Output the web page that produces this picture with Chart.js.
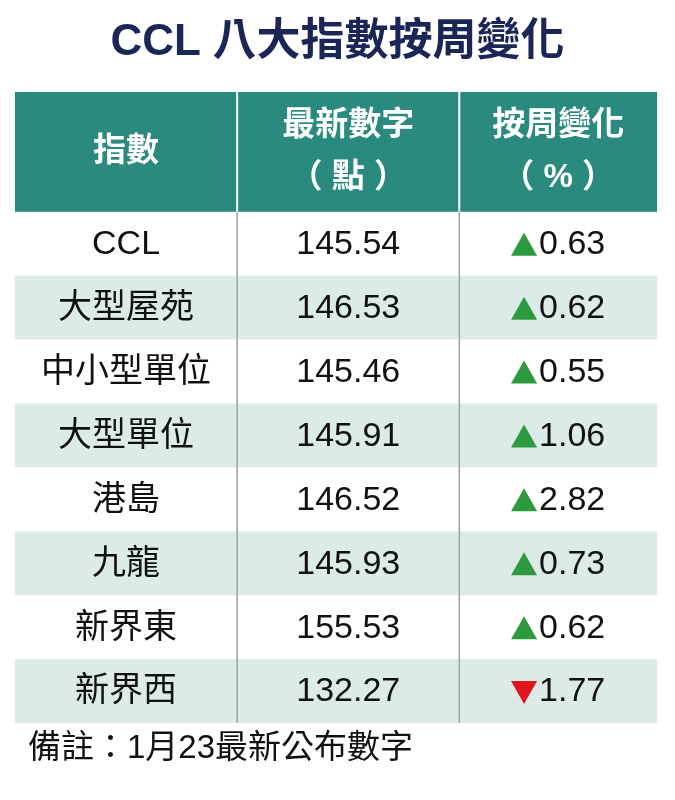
<!DOCTYPE html>
<html><head><meta charset="utf-8">
<script src="https://cdn.jsdelivr.net/npm/chart.js@4/dist/chart.umd.min.js"></script>
<style>
body{margin:0;background:#fff;width:675px;height:800px;position:relative;overflow:hidden;font-family:"Liberation Sans","Noto Sans CJK TC",sans-serif}
#t{position:absolute;top:14px;left:0;width:675px;text-align:center;font-size:44px;font-weight:bold;color:#1b2657;line-height:1.2}
#f{position:absolute;top:727px;left:28px;font-size:33px;color:#111;line-height:1.2}
canvas{position:absolute;left:0;top:0}
</style></head><body>
<canvas id="c" width="675" height="800"></canvas>
<div id="t">CCL 八大指數按周變化</div>
<div id="f">備註：1月23最新公布數字</div>
<script>
const headers = [["指數"], ["最新數字", "（ 點 ）"], ["按周變化", "（ % ）"]];
const categories = ["CCL","大型屋苑","中小型單位","大型單位","港島","九龍","新界東","新界西"];
const latest = [145.54,146.53,145.46,145.91,146.52,145.93,155.53,132.27];
const weeklyChange = [0.63,0.62,0.55,1.06,2.82,0.73,0.62,-1.77];

const colEdges=[0,1,2,2.89];
const headerUnits=1.875;
const totalUnits=headerUnits+categories.length;
const FONT='"Liberation Sans","Noto Sans CJK TC",sans-serif';

const tablePlugin={id:'table',beforeDatasetsDraw(chart){
  const ctx=chart.ctx,x=chart.scales.x,y=chart.scales.y;
  const X=v=>x.getPixelForValue(v),Y=v=>y.getPixelForValue(v);
  ctx.save();
  ctx.fillStyle='#2a8a7e';
  ctx.fillRect(X(0),Y(0),X(colEdges[3])-X(0),Y(headerUnits)-Y(0));
  categories.forEach((c,i)=>{
    const y0=Y(headerUnits+i),y1=Y(headerUnits+i+1);
    if(i%2===1){ctx.fillStyle='#dcebe8';ctx.fillRect(X(0),y0,X(colEdges[3])-X(0),y1-y0);}
  });
  [1,2].forEach(e=>{
    ctx.strokeStyle='#ffffff';ctx.lineWidth=2;
    ctx.beginPath();ctx.moveTo(X(colEdges[e]),Y(0));ctx.lineTo(X(colEdges[e]),Y(headerUnits));ctx.stroke();
    ctx.strokeStyle='#9aa5a3';ctx.lineWidth=1.5;
    ctx.beginPath();ctx.moveTo(X(colEdges[e]),Y(headerUnits));ctx.lineTo(X(colEdges[e]),Y(totalUnits));ctx.stroke();
  });
  ctx.fillStyle='#fff';ctx.textAlign='center';ctx.textBaseline='middle';
  ctx.font='bold 33px '+FONT;
  headers.forEach((h,j)=>{
    const cx=(X(colEdges[j])+X(colEdges[j+1]))/2;
    if(h.length===1)ctx.fillText(h[0],cx,Y(headerUnits/2));
    else{ctx.fillText(h[0],cx,Y(headerUnits*0.28));ctx.fillText(h[1],cx,Y(headerUnits*0.72));}
  });
  ctx.font='34px '+FONT;
  categories.forEach((c,i)=>{
    const cy=Y(headerUnits+i+0.5)+1;
    ctx.fillStyle='#111';ctx.textAlign='center';
    ctx.fillText(c,(X(colEdges[0])+X(colEdges[1]))/2,cy);
    ctx.fillText(latest[i].toFixed(2),(X(colEdges[1])+X(colEdges[2]))/2,cy);
    const v=weeklyChange[i],txt=Math.abs(v).toFixed(2);
    const tw=ctx.measureText(txt).width,triW=26,gap=2;
    const start=(X(colEdges[2])+X(colEdges[3]))/2-(tw+triW+gap)/2;
    ctx.beginPath();
    if(v>=0){ctx.fillStyle='#2e9a3f';ctx.moveTo(start,cy+11);ctx.lineTo(start+triW,cy+11);ctx.lineTo(start+triW/2,cy-12);}
    else{ctx.fillStyle='#e0141e';ctx.moveTo(start,cy-11);ctx.lineTo(start+triW,cy-11);ctx.lineTo(start+triW/2,cy+12);}
    ctx.closePath();ctx.fill();
    ctx.fillStyle='#111';ctx.textAlign='left';
    ctx.fillText(txt,start+triW+gap,cy);
  });
  ctx.restore();
}};

new Chart(document.getElementById('c'),{
  type:'scatter',
  data:{datasets:[{data:categories.map((c,i)=>({x:0,y:headerUnits+i+0.5})),pointRadius:0}]},
  options:{responsive:false,animation:false,
    layout:{padding:{left:15,right:18,top:92,bottom:77}},
    plugins:{legend:{display:false},tooltip:{enabled:false}},
    scales:{x:{type:'linear',min:0,max:colEdges[3],display:false},
            y:{type:'linear',min:0,max:totalUnits,reverse:true,display:false}}},
  plugins:[tablePlugin]
});
</script></body></html>
